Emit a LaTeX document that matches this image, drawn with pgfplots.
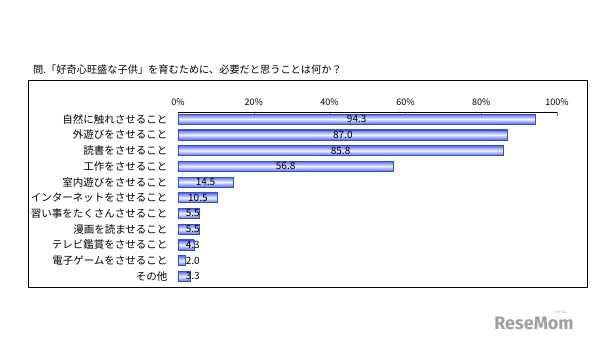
\documentclass[border=0pt]{standalone}
\usepackage{pgfplots}
\pgfplotsset{compat=1.18}
\usepackage{pgfplotstable}
\usepackage{fontspec}
\setmainfont{Noto Sans CJK JP}
\newfontfamily\wm{Fira Sans}
\definecolor{barline}{RGB}{55,75,215}
\definecolor{bardark}{RGB}{85,105,230}
\definecolor{barlight}{RGB}{240,242,255}
\pgfplotstableread{
y v
0 94.3
1 87.0
2 85.8
3 56.8
4 14.5
5 10.5
6 5.5
7 5.5
8 4.3
9 2.0
10 3.3
}\data
\begin{document}
\begin{tikzpicture}[x=1pt,y=1pt]
\path (0,0) rectangle (608,347);
\draw[black, line width=0.8pt] (28,267) rectangle (587,60);
\node[anchor=west, inner sep=0pt, font=\fontsize{10.2}{12}\selectfont] at (33,277) {問.「好奇心旺盛な子供」を育むために、必要だと思うことは何か？};
\begin{axis}[
  at={(178pt,235pt)}, anchor=north west,
  scale only axis, width=379pt, height=171.5pt,
  xmin=0, xmax=100, ymin=-0.45, ymax=10.45,
  y dir=reverse,
  axis x line*=top, axis y line*=left,
  y axis line style={draw=none},
  ytick style={draw=none},
  x axis line style={-, line width=0.6pt},
  xtick={0,20,40,60,80,100},
  xtick align=inside,
  major tick length=4pt,
  xticklabel={\pgfmathprintnumber{\tick}\%},
  xticklabel style={font=\fontsize{9}{10}\selectfont, yshift=3pt},
  /pgf/number format/assume math mode=true,
  ytick={0,...,10},
  yticklabels={自然に触れさせること,外遊びをさせること,読書をさせること,工作をさせること,室内遊びをさせること,インターネットをさせること,習い事をたくさんさせること,漫画を読ませること,テレビ鑑賞をさせること,電子ゲームをさせること,その他},
  yticklabel style={font=\fontsize{10.5}{12}\selectfont, xshift=-7pt},
  clip=false,
]
\pgfplotsinvokeforeach{0,...,10}{
\addplot[xbar, bar width=10pt, draw=barline, line width=0.6pt,
  top color=bardark, bottom color=bardark, middle color=barlight,
  x filter/.expression={\coordindex==#1 ? x : nan}]
  table[x=v, y=y] {\data};
}
\addplot[draw=none, mark=none, nodes near coords, point meta=explicit symbolic,
  every node near coord/.style={anchor=center, inner sep=0pt, font=\fontsize{10}{11}\selectfont}]
  table[x expr={max(\thisrow{v}/2,3.9)}, y=y, meta=v] {\data};
\end{axis}
\node[anchor=center, text=gray!75, font=\wm\bfseries\fontsize{18}{20}\selectfont] at (534,24) {ReseMom};
\node[anchor=center, text=gray!75, font=\fontsize{3.5}{4}\selectfont] at (560,35) {リセマム};
\end{tikzpicture}
\end{document}
